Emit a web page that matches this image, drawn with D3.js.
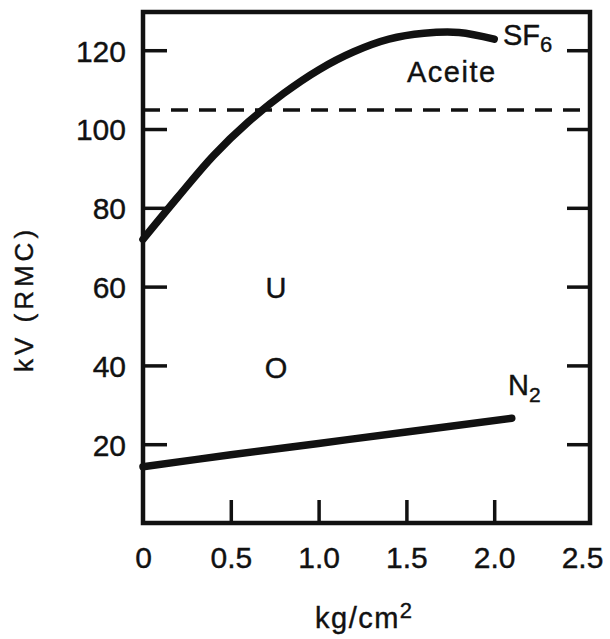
<!DOCTYPE html>
<html>
<head>
<meta charset="utf-8">
<script src="https://cdn.jsdelivr.net/npm/d3@7"></script>
<style>
  body { margin: 0; background: #fff; }
  svg text { font-family: "Liberation Sans", Arial, Helvetica, sans-serif; fill: #111; stroke: #111; stroke-width: 0.4px; }
</style>
</head>
<body>
<div id="chart"></div>
<script>
// values
var xLabels = [0, 0.5, 1.0, 1.5, 2.0, 2.5];
var xTicks = [0.5, 1.0, 1.5, 2.0];
var yTicks = [20, 40, 60, 80, 100, 120];

var sf6X = [0, 0.2, 0.4, 0.6, 0.8, 1.0, 1.2, 1.4, 1.6, 1.8, 2.0];
var sf6Y = [72, 82.8, 93.2, 101.8, 109.0, 115, 119.6, 122.8, 124.3, 124.5, 122.8];

var n2X = [0, 0.5, 1.0, 1.5, 2.1];
var n2Y = [14.3, 17.3, 20.2, 23.1, 26.6];

var oilLevel = 104.8;   // dashed line "Aceite"

var width = 610, height = 639;
var pLeft = 143, pRight = 590, pTop = 12, pBottom = 523;

var svg = d3.select("#chart").append("svg")
    .attr("width", width)
    .attr("height", height);

var x = d3.scaleLinear().domain([0, 2.5]).range([pLeft, 582]);
var y = d3.scaleLinear().domain([0, 129.7]).range([pBottom, pTop]);

// left axis, ticks pointing inward
var yAxis = svg.append("g")
    .attr("transform", "translate(" + pLeft + ",0)")
    .call(d3.axisLeft(y).tickValues(yTicks).tickSize(-24).tickPadding(17));
yAxis.select(".domain").remove();
yAxis.selectAll("line").attr("stroke", "#111").attr("stroke-width", 3.5);
yAxis.selectAll("text").style("font-size", "30px").attr("dy", "0.36em");

// right axis, no labels
var rAxis = svg.append("g")
    .attr("transform", "translate(" + pRight + ",0)")
    .call(d3.axisRight(y).tickValues(yTicks).tickSize(-23).tickFormat(""));
rAxis.select(".domain").remove();
rAxis.selectAll("line").attr("stroke", "#111").attr("stroke-width", 3.5);

// bottom axis
var xAxis = svg.append("g")
    .attr("transform", "translate(0," + pBottom + ")")
    .call(d3.axisBottom(x).tickValues(xLabels).tickSize(-23).tickPadding(24)
        .tickFormat(function(d) { return d === 0 ? "0" : d.toFixed(1); }));
xAxis.select(".domain").remove();
xAxis.selectAll(".tick").filter(function(d) { return xTicks.indexOf(d) < 0; })
    .select("line").remove();
xAxis.selectAll("line").attr("stroke", "#111").attr("stroke-width", 3.5);
xAxis.selectAll("text").style("font-size", "30px");

// frame
svg.append("rect")
    .attr("x", pLeft).attr("y", pTop)
    .attr("width", pRight - pLeft).attr("height", pBottom - pTop)
    .attr("fill", "none")
    .attr("stroke", "#111")
    .attr("stroke-width", 4.5);

// dashed oil line
svg.append("line")
    .attr("x1", pLeft).attr("x2", pRight)
    .attr("y1", y(oilLevel)).attr("y2", y(oilLevel))
    .attr("stroke", "#111")
    .attr("stroke-width", 3.5)
    .attr("stroke-dasharray", "17,11");

var line = d3.line()
    .x(function(d) { return x(d[0]); })
    .y(function(d) { return y(d[1]); })
    .curve(d3.curveCatmullRom.alpha(0.5));

svg.append("path")
    .datum(d3.zip(sf6X, sf6Y))
    .attr("fill", "none")
    .attr("stroke", "#111")
    .attr("stroke-width", 7.5)
    .attr("stroke-linecap", "round")
    .attr("d", line);

svg.append("path")
    .datum(d3.zip(n2X, n2Y))
    .attr("fill", "none")
    .attr("stroke", "#111")
    .attr("stroke-width", 7.5)
    .attr("stroke-linecap", "round")
    .attr("d", line);

// labels
var sf6 = svg.append("text").attr("x", 503).attr("y", 45).style("font-size", "29px");
sf6.append("tspan").text("SF");
sf6.append("tspan").attr("dy", 7).style("font-size", "22px").text("6");

svg.append("text").attr("x", 407).attr("y", 82)
    .style("font-size", "29px").style("letter-spacing", "1.5px")
    .text("Aceite");

svg.append("text").attr("x", 276).attr("y", 298).attr("text-anchor", "middle")
    .style("font-size", "29px").text("U");
svg.append("text").attr("x", 276).attr("y", 378).attr("text-anchor", "middle")
    .style("font-size", "29px").text("O");

var n2 = svg.append("text").attr("x", 508).attr("y", 395).style("font-size", "29px");
n2.append("tspan").text("N");
n2.append("tspan").attr("dy", 7).style("font-size", "21px").text("2");

// axis titles
var xt = svg.append("text").attr("x", 315).attr("y", 628)
    .style("font-size", "29px").style("letter-spacing", "1.5px");
xt.append("tspan").text("kg/cm");
xt.append("tspan").attr("dy", -10).style("font-size", "22px").text("2");

svg.append("text")
    .attr("transform", "translate(33,299) rotate(-90)")
    .attr("text-anchor", "middle")
    .style("font-size", "26px")
    .style("letter-spacing", "4px")
    .text("kV (RMC)");
</script>
</body>
</html>
